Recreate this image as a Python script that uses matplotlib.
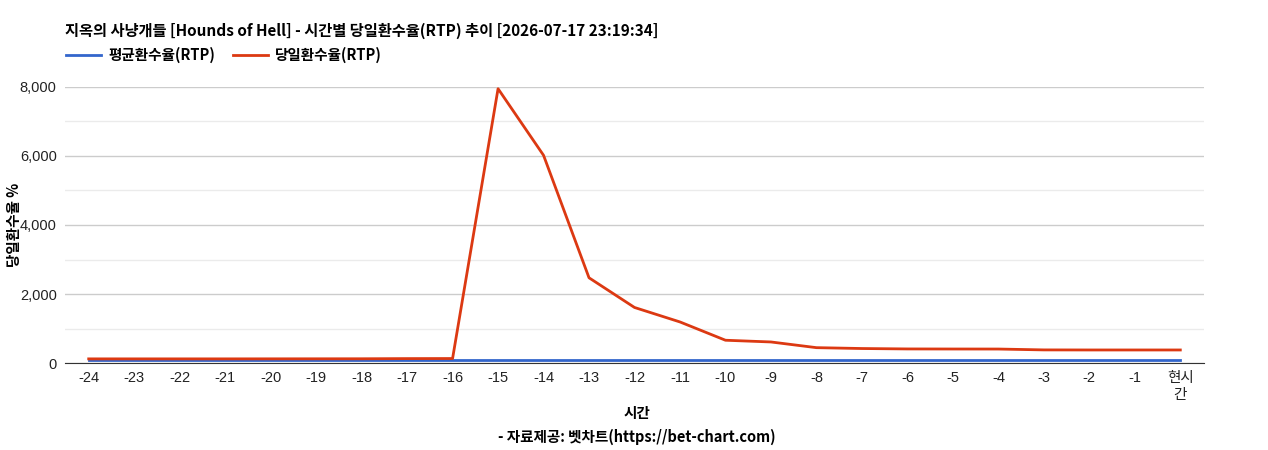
import matplotlib.pyplot as plt
from matplotlib.ticker import FuncFormatter, MultipleLocator

plt.rcParams['font.family'] = ['Noto Sans CJK KR', 'DejaVu Sans']

hours = ['-24', '-23', '-22', '-21', '-20', '-19', '-18', '-17', '-16', '-15', '-14', '-13',
         '-12', '-11', '-10', '-9', '-8', '-7', '-6', '-5', '-4', '-3', '-2', '-1', '현시\n간']
avg_rtp = [95] * 25
today_rtp = [120, 120, 120, 120, 121, 122, 123, 128, 130, 7950, 6020, 2470, 1610, 1190,
             660, 610, 445, 420, 408, 406, 405, 380, 378, 378, 378]

fig = plt.figure(figsize=(12.68, 4.5), dpi=100)
ax = fig.add_axes([0.0513, 0.1933, 0.8982, 0.6134])

x = range(len(hours))
ax.plot(x, avg_rtp, color='#3366cc', lw=2, label='평균환수율(RTP)')
ax.plot(x, today_rtp, color='#dc3912', lw=2, label='당일환수율(RTP)')

ax.set_xlim(-0.52, 24.52)
ax.set_ylim(0, 8000)
ax.set_xticks(list(x))
ax.set_xticklabels(hours)
ax.yaxis.set_major_locator(MultipleLocator(2000))
ax.yaxis.set_minor_locator(MultipleLocator(1000))
ax.yaxis.set_major_formatter(FuncFormatter(lambda v, p: f'{int(v):,}'))
ax.grid(which='major', axis='y', color='#cccccc', lw=1)
ax.grid(which='minor', axis='y', color='#ebebeb', lw=1)
ax.set_axisbelow(True)
for s in ['top', 'right', 'left']:
    ax.spines[s].set_visible(False)
ax.spines['bottom'].set_color('#333333')
ax.tick_params(axis='both', which='both', length=0, labelsize=10.5, colors='#222222')
ax.tick_params(axis='x', pad=6)
ax.tick_params(axis='y', pad=6)
for lab in ax.get_xticklabels() + ax.get_yticklabels():
    lab.set_family(['Liberation Sans', 'Noto Sans CJK KR'])
    lab.set_fontsize(10.5)

ax.set_ylabel('당일환수율 %', fontsize=10.5, fontweight='bold')
ax.yaxis.set_label_coords(-0.038, 0.5)

fig.text(0.0513, 0.932, '지옥의 사냥개들 [Hounds of Hell] - 시간별 당일환수율(RTP) 추이 [2026-07-17 23:19:34]',
         fontsize=11, fontweight='bold', va='center')
fig.text(0.502, 0.082, '시간', fontsize=10.5, fontweight='bold', ha='center', va='center')
fig.text(0.502, 0.029, '- 자료제공: 벳차트(https://bet-chart.com)', fontsize=10.5,
         fontweight='bold', ha='center', va='center')

fig.legend(loc='center left', bbox_to_anchor=(0.042, 0.878), ncol=2, frameon=False,
           prop={'size': 10.5, 'weight': 'bold'}, handlelength=2.4, columnspacing=1.2,
           handletextpad=0.5)

fig.savefig('out.png', dpi=100)
